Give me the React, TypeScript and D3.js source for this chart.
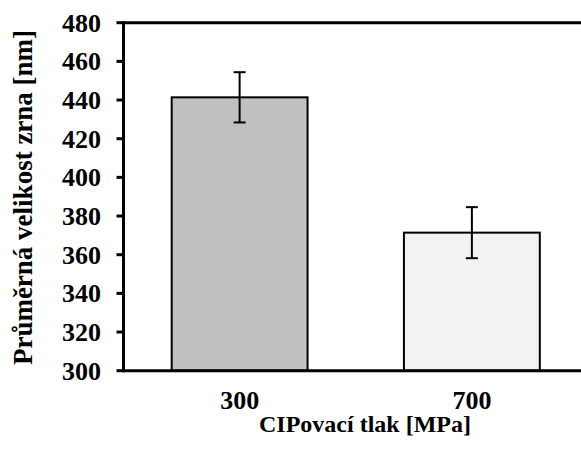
import React from 'react';
import * as d3 from 'd3';

// data
const categories = ['300', '700'];
const means = [441.4, 371.4];
const errors = [13, 13.2];
const barColors = ['#c0c0c0', '#f2f2f2'];
const yTicks = [300, 320, 340, 360, 380, 400, 420, 440, 460, 480];

const width = 581;
const height = 454;
const margin = { top: 22.7, right: -7, bottom: 83.3, left: 123.5 };
const font = '"Liberation Serif", "Times New Roman", serif';

const App = () => {
  const x = d3
    .scaleBand()
    .domain(categories)
    .range([margin.left, width - margin.right])
    .paddingInner(0.415)
    .paddingOuter(0.2075);

  const y = d3
    .scaleLinear()
    .domain([300, 480])
    .range([height - margin.bottom, margin.top]);

  const y0 = y(300);
  const capHalf = 6;

  return (
    <svg
      width={width}
      height={height}
      style={{ position: 'absolute', left: 0, top: 0, background: '#fff' }}
    >
      {/* bars */}
      {categories.map((c, i) => (
        <rect
          key={c}
          x={x(c)}
          y={y(means[i])}
          width={x.bandwidth()}
          height={y0 - y(means[i])}
          fill={barColors[i]}
          stroke="#000"
          strokeWidth={2}
        />
      ))}

      {/* error bars */}
      {categories.map((c, i) => {
        const cx = (x(c) as number) + x.bandwidth() / 2;
        const top = y(means[i] + errors[i]);
        const bot = y(means[i] - errors[i]);
        return (
          <g key={'e' + c} stroke="#000" strokeWidth={2}>
            <line x1={cx} x2={cx} y1={top} y2={bot} />
            <line x1={cx - capHalf} x2={cx + capHalf} y1={top} y2={top} />
            <line x1={cx - capHalf} x2={cx + capHalf} y1={bot} y2={bot} />
          </g>
        );
      })}

      {/* frame: top line, y axis, x axis */}
      <line x1={margin.left} x2={width} y1={y(480)} y2={y(480)} stroke="#000" strokeWidth={3} />
      <line x1={margin.left} x2={width} y1={y0} y2={y0} stroke="#000" strokeWidth={3} />
      <line x1={margin.left} x2={margin.left} y1={y(480) - 1.5} y2={y0 + 1.5} stroke="#000" strokeWidth={3} />

      {/* y ticks */}
      {yTicks.map((t) => (
        <g key={t}>
          <line x1={margin.left - 7} x2={margin.left} y1={y(t)} y2={y(t)} stroke="#000" strokeWidth={3} />
          <text
            x={101}
            y={y(t)}
            dy="0.35em"
            textAnchor="end"
            fontFamily={font}
            fontWeight="bold"
            fontSize={26}
          >
            {t}
          </text>
        </g>
      ))}

      {/* x tick labels */}
      {categories.map((c) => (
        <text
          key={'l' + c}
          x={(x(c) as number) + x.bandwidth() / 2}
          y={409}
          textAnchor="middle"
          fontFamily={font}
          fontWeight="bold"
          fontSize={26}
        >
          {c}
        </text>
      ))}

      {/* axis titles */}
      <text
        x={365}
        y={432}
        textAnchor="middle"
        fontFamily={font}
        fontWeight="bold"
        fontSize={24}
      >
        CIPovací tlak [MPa]
      </text>
      <text
        transform={`translate(32,197.5) rotate(-90)`}
        textAnchor="middle"
        fontFamily={font}
        fontWeight="bold"
        fontSize={27}
      >
        Průměrná velikost zrna [nm]
      </text>
    </svg>
  );
};

export default App;
